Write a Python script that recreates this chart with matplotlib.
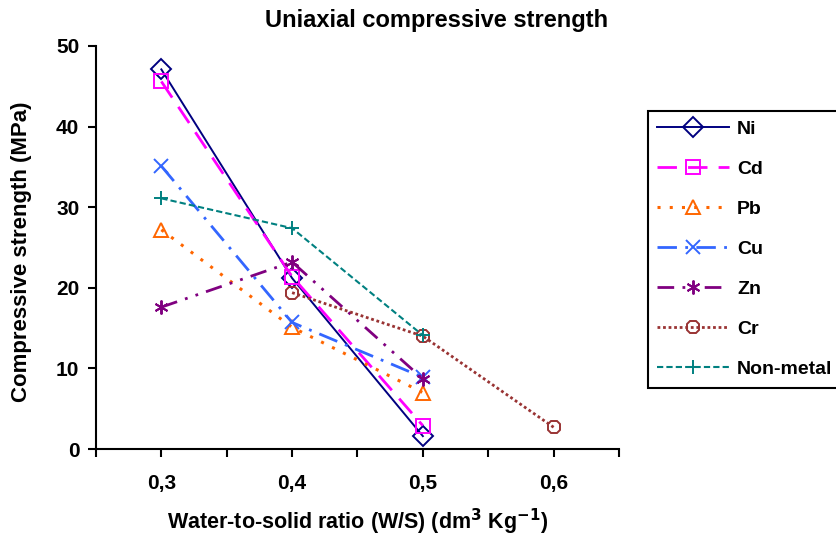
import numpy as np
import matplotlib
matplotlib.use("Agg")
import matplotlib.pyplot as plt

plt.rcParams["font.family"] = ["Liberation Sans", "DejaVu Sans"]
plt.rcParams["font.weight"] = "bold"

ratio = [0.3, 0.4, 0.5, 0.6]

ni = [47.1, 21.2, 1.6]
cd = [45.6, 21.4, 2.9]
pb = [27.2, 15.1, 7.0]
cu = [35.1, 15.7, 8.9]
zn = [17.6, 23.2, 8.7]
cr = [19.4, 14.0, 2.7]
nonmetal = [31.1, 27.4, 14.1]

series = [
    ("Ni", ratio[0:3], ni, "#000080", "-", "D", 1.4),
    ("Cd", ratio[0:3], cd, "#FF00FF", (0, (7, 4)), "s", 2.0),
    ("Pb", ratio[0:3], pb, "#FF6600", (0, (1, 3)), "^", 2.2),
    ("Cu", ratio[0:3], cu, "#3366FF", (0, (7, 3, 1, 3)), "x", 2.0),
    ("Zn", ratio[0:3], zn, "#800080", (0, (6, 3, 1, 3, 1, 3)), (6, 2, 0), 2.0),
    ("Cr", ratio[1:4], cr, "#993333", (0, (1, 1)), "8", 2.0),
    ("Non-metal", ratio[0:3], nonmetal, "#008080", (0, (3, 1.5)), "+", 1.5),
]

fig = plt.figure(figsize=(8.36, 5.38), dpi=100)
ax = fig.add_axes([0.1148, 0.1654, 0.6256, 0.7491])

for name, x, y, color, ls, marker, lw in series:
    ax.plot(x, y, color=color, linestyle=ls, linewidth=lw, marker=marker,
            markersize=10, markerfacecolor="none", markeredgecolor=color,
            markeredgewidth=1.4, label=name)

ax.set_xlim(0.25, 0.65)
ax.set_ylim(0, 50)
ax.set_xticks(ratio)
ax.set_xticklabels(["0,3", "0,4", "0,5", "0,6"])
ax.set_xticks([0.25, 0.35, 0.45, 0.55, 0.65], minor=True)
ax.set_yticks(range(0, 51, 10))

for side in ["top", "right"]:
    ax.spines[side].set_visible(False)
for side in ["left", "bottom"]:
    ax.spines[side].set_linewidth(1.5)

ax.tick_params(axis="both", which="both", direction="out", length=6, width=1.5,
               labelsize=15, pad=6)
ax.tick_params(axis="x", which="major", pad=12)
for lab in ax.get_xticklabels() + ax.get_yticklabels():
    lab.set_fontweight("bold")

ax.set_title("Uniaxial compressive strength", fontsize=17, fontweight="bold",
             x=0.652, y=1.0, pad=14)
ax.set_xlabel("Water-to-solid ratio (W/S) (dm$^\\mathbf{3}$ Kg$^\\mathbf{-1}$)",
              fontsize=15.5, fontweight="bold")
ax.xaxis.set_label_coords(0.5, -0.182)
ax.xaxis.label.set_verticalalignment("center")
ax.set_ylabel("Compressive strength (MPa)", fontsize=16, fontweight="bold")
ax.yaxis.set_label_coords(-0.1415, 0.49)
ax.yaxis.label.set_verticalalignment("center")

leg = fig.legend(loc="upper left", bbox_to_anchor=(0.763, 0.812),
                 bbox_transform=fig.transFigure, fontsize=14,
                 handlelength=3.7, handletextpad=0.4, labelspacing=1.15,
                 borderpad=0.5, fancybox=False, framealpha=1, edgecolor="black")
leg.get_frame().set_linewidth(1.5)
for t in leg.get_texts():
    t.set_fontweight("bold")

fig.savefig("out.png", dpi=100)
